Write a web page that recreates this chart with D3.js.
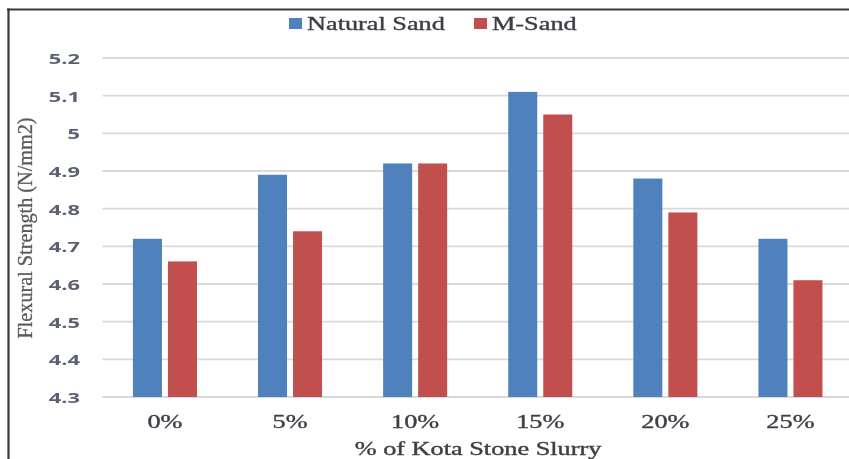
<!DOCTYPE html>
<html>
<head>
<meta charset="utf-8">
<script src="https://cdn.jsdelivr.net/npm/d3@7"></script>
<style>
  html, body { margin: 0; padding: 0; background: #fff; }
  svg { display: block; }
</style>
</head>
<body>
<svg id="chart" width="849" height="459"></svg>
<script>
// Flexural strength by Kota stone slurry replacement level
const categories = ["0%", "5%", "10%", "15%", "20%", "25%"];
const seriesNames = ["Natural Sand", "M-Sand"];
const naturalSand = [4.72, 4.89, 4.92, 5.11, 4.88, 4.72];
const mSand = [4.66, 4.74, 4.92, 5.05, 4.79, 4.61];
const yTicks = [4.3, 4.4, 4.5, 4.6, 4.7, 4.8, 4.9, 5, 5.1, 5.2];
const colors = ["#4F81BD", "#C0504D"];

const seriesValues = [naturalSand, mSand];
const rows = categories.map((c, i) => ({ cat: c, vals: seriesValues.map(s => s[i]) }));

const root = d3.select("#chart");
// soft edge on everything
root.append("defs").append("filter").attr("id", "soft")
  .attr("x", "-5%").attr("y", "-5%").attr("width", "110%").attr("height", "110%")
  .append("feGaussianBlur").attr("stdDeviation", 0.45);
root.append("rect").attr("width", 849).attr("height", 459).attr("fill", "#fff");
const svg = root.append("g").attr("filter", "url(#soft)");

const stretch = 1.46;   // horizontal glyph stretch used for all labels
const serif = "'Liberation Serif', 'Times New Roman', serif";
const sans = "'Open Sans', 'Liberation Sans', sans-serif";

const plot = { left: 102.4, right: 853, top: 58, bottom: 397 };

const x = d3.scaleBand().domain(categories).range([plot.left, plot.right])
  .paddingInner(0.488).paddingOuter(0.244);
const xs = d3.scaleBand().domain(seriesNames).range([0, x.bandwidth()]).paddingInner(0.171);
const y = d3.scaleLinear().domain([4.3, 5.2]).range([plot.bottom, plot.top]);

// frame
svg.append("line").attr("x1", 7).attr("x2", 849).attr("y1", 9.5).attr("y2", 9.5)
  .attr("stroke", "#3a3a3a").attr("stroke-width", 2.2);
svg.append("line").attr("x1", 8.5).attr("x2", 8.5).attr("y1", 8.5).attr("y2", 459)
  .attr("stroke", "#3a3a3a").attr("stroke-width", 2.2);

// gridlines
svg.append("g").selectAll("line").data(yTicks).join("line")
  .attr("x1", plot.left).attr("x2", 849)
  .attr("y1", d => y(d)).attr("y2", d => y(d))
  .attr("stroke", "#d9d9d9").attr("stroke-width", 1.8);

// y tick labels
svg.append("g").selectAll("text").data(yTicks).join("text")
  .attr("transform", d => `translate(80,${y(d)}) scale(${stretch + 0.05},1)`)
  .attr("text-anchor", "end").attr("dominant-baseline", "central")
  .attr("font-family", sans).attr("font-weight", 700).attr("font-size", 14.5)
  .attr("fill", "#5b6173")
  .text(d => d3.format("~g")(d));

// bars
const groups = svg.append("g").selectAll("g").data(rows).join("g")
  .attr("transform", d => `translate(${x(d.cat)},0)`);
groups.selectAll("rect").data(d => d.vals.map((v, k) => ({ name: seriesNames[k], v, k })))
  .join("rect")
  .attr("x", d => xs(d.name)).attr("width", xs.bandwidth())
  .attr("y", d => y(d.v)).attr("height", d => y(4.3) - y(d.v))
  .attr("fill", d => colors[d.k]);

// shared style for the serif labels
const serifText = sel => sel
  .attr("font-family", serif).attr("font-size", 18).attr("fill", "#3d3d45")
  .attr("stroke", "#3d3d45").attr("stroke-width", 0.35);

// x tick labels
svg.append("g").selectAll("text").data(categories).join("text")
  .attr("transform", d => `translate(${x(d) + x.bandwidth() / 2},428) scale(${stretch},1)`)
  .attr("text-anchor", "middle")
  .call(serifText)
  .text(d => d);

// x axis title
svg.append("text")
  .attr("transform", `translate(478,455) scale(${stretch},1)`)
  .attr("text-anchor", "middle")
  .call(serifText)
  .text("% of Kota Stone Slurry");

// y axis title
svg.append("text")
  .attr("transform", "translate(25,228) rotate(-90) scale(1,1.25)")
  .attr("text-anchor", "middle").attr("dominant-baseline", "central")
  .attr("font-family", serif).attr("font-size", 16).attr("fill", "#5a5a5a")
  .attr("stroke", "#5a5a5a").attr("stroke-width", 0.25)
  .attr("textLength", 221).attr("lengthAdjust", "spacingAndGlyphs")
  .text("Flexural Strength (N/mm2)");

// legend
const legendItems = [
  { name: seriesNames[0], sx: 289, tx: 307 },
  { name: seriesNames[1], sx: 474, tx: 492 }
];
const lg = svg.append("g");
lg.selectAll("rect").data(legendItems).join("rect")
  .attr("x", d => d.sx).attr("y", 18).attr("width", 13).attr("height", 11)
  .attr("fill", (d, i) => colors[i]);
lg.selectAll("text").data(legendItems).join("text")
  .attr("transform", d => `translate(${d.tx},30) scale(${stretch},1)`)
  .call(serifText)
  .text(d => d.name);
</script>
</body>
</html>
